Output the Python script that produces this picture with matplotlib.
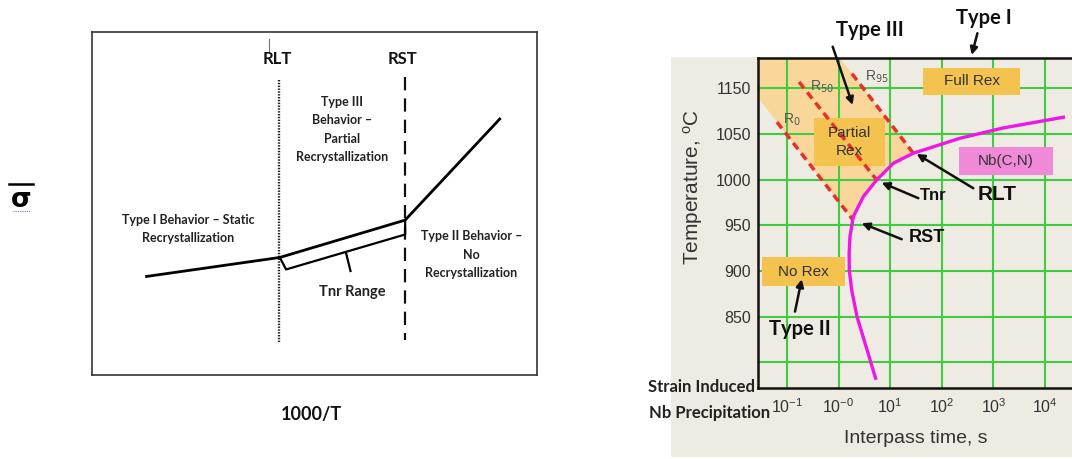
import matplotlib
matplotlib.use("Agg")
import matplotlib.pyplot as plt
from matplotlib.patches import Rectangle, Polygon
from matplotlib.lines import Line2D

# ---------------- data: left schematic (arbitrary units) ----------------
flow_x = [11.9, 42.2, 70.4, 91.9]          # 1000/T
flow_y = [28.7, 34.3, 45.2, 75.0]          # mean flow stress
bracket_x = [42.2, 43.6, 70.4, 70.4]
bracket_y = [34.3, 30.8, 41.0, 45.2]
tnr_tick_x = [57.1, 58.1]
tnr_tick_y = [35.6, 30.35]
rlt_x = 41.9
rlt_y = [86.1, 9.2]
rst_x = 70.4
rst_y = [87.0, 10.2]

# ---------------- data: right RPTT diagram ----------------
xtick_vals = [-1, 0, 1, 2, 3, 4]                      # log10(interpass time, s)
xtick_labels = [r"$\mathregular{10^{-1}}$", r"$\mathregular{10^{-0}}$",
                r"$\mathregular{10^{1}}$", r"$\mathregular{10^{2}}$",
                r"$\mathregular{10^{3}}$", r"$\mathregular{10^{4}}$"]
ytick_vals = [850, 900, 950, 1000, 1050, 1100]
ytick_labels = ["850", "900", "950", "1000", "1050", "1150"]
grid_T = [800, 850, 900, 950, 1000, 1050, 1100]

curve_logt = [0.725, 0.55, 0.357, 0.254, 0.207, 0.205, 0.221, 0.285, 0.479,
              0.738, 1.06, 1.448, 2.353, 3.186, 4.388]
curve_T = [781, 814, 850, 879, 901, 920, 938, 959.5, 981.4,
           999.7, 1017.9, 1028.9, 1045.3, 1056.5, 1068.6]

r0_logt, r0_T = [-1.194, 0.279], [1063.0, 955.9]
r50_logt, r50_T = [-0.767, 0.738], [1106.9, 999.7]
r95_logt, r95_T = [0.26, 1.448], [1115.9, 1028.9]

shade_logt = [-1.562, 0.025, 1.448, 1.06, 0.738, 0.479, 0.285, 0.279, -1.562]
shade_T = [1133.1, 1133.1, 1028.9, 1017.9, 999.7, 981.4, 959.5, 955.9, 1089.8]

box_labels = ["Full Rex", "Partial\nRex", "No Rex", "Nb(C,N)"]
box_logt = [(1.636, 3.516), (-0.477, 0.899), (-1.49, 0.124), (2.34, 4.15)]
box_T = [(1092.6, 1122.2), (1014.5, 1067.2), (884.0, 914.9), (1005.1, 1036.1)]
box_colors = ["#f3c24f", "#f3c24f", "#f3c24f", "#f08ad8"]

r_labels = [r"R$_0$", r"R$_{50}$", r"R$_{95}$"]
r_label_logt = [-0.91, -0.327, 0.75]
r_label_T = [1065, 1101.8, 1112]

ann_text = ["Type III", "Type I", "Type II", "Tnr", "RST", "RLT"]
ann_text_xy = [(0.60, 1163.8), (2.81, 1176.6), (-0.76, 836.3),
               (1.835, 982.2), (1.707, 937.0), (3.064, 983.3)]
ann_tail = [(-0.115, 1145.5), (2.69, 1160.2), (-0.845, 855.6),
            (1.545, 979.7), (1.223, 934.8), (2.61, 990.6)]
ann_tip = [(0.273, 1081.7), (2.58, 1136.4), (-0.715, 891.0),
           (0.835, 996.7), (0.448, 952.3), (1.513, 1028.1)]
ann_size = [14.5, 14.5, 14.5, 12, 13, 15]
ann_font = ["Lato", "Lato", "Lato", "Liberation Sans", "Liberation Sans", "Liberation Sans"]

W, H = 1072, 459
fig = plt.figure(figsize=(W / 100, H / 100), dpi=100)
fig.patch.set_facecolor("white")

# beige background of the right picture
fig.patches.append(Rectangle((671 / W, 1 - 457 / H), (W - 671) / W, (457 - 57) / H,
                             transform=fig.transFigure, facecolor="#eeebe3",
                             edgecolor="none", zorder=-5))

# ================= LEFT PANEL =================
axl = fig.add_axes([92.3 / W, 1 - 375 / H, 444.4 / W, 342.7 / H])
axl.set_xlim(0, 100)
axl.set_ylim(0, 100)
axl.set_xticks([])
axl.set_yticks([])
for s in axl.spines.values():
    s.set_color("#333333")
    s.set_linewidth(1.2)

LF = "Lato"
axl.plot(flow_x, flow_y, color="black", lw=2.0, solid_capstyle="butt", zorder=3)
axl.plot(bracket_x, bracket_y, color="black", lw=1.6, zorder=3)
axl.plot(tnr_tick_x, tnr_tick_y, color="black", lw=1.6, zorder=3)
axl.plot([rlt_x, rlt_x], rlt_y, color="#222222", lw=1.7, linestyle=(0, (0.6, 0.6)), zorder=2)
axl.plot([rst_x, rst_x], rst_y, color="#111111", lw=1.6, linestyle=(0, (6, 3.6)), zorder=2)
axl.plot([39.83, 39.83], [98.05, 94.25], color="#777777", lw=0.8)

axl.text(41.65, 92.1, "RLT", ha="center", va="center", fontsize=12, fontweight="bold",
         family=LF, color="#111111")
axl.text(69.8, 92.1, "RST", ha="center", va="center", fontsize=12, fontweight="bold",
         family=LF, color="#111111")
axl.text(56.2, 71.6, "Type III\nBehavior \u2013\nPartial\nRecrystallization", ha="center",
         va="center", fontsize=9, fontweight="bold", family=LF, color="#222222",
         linespacing=1.65)
axl.text(21.6, 42.6, "Type I Behavior \u2013 Static\nRecrystallization", ha="center",
         va="center", fontsize=9, fontweight="bold", family=LF, color="#222222",
         linespacing=1.65)
axl.text(85.3, 35.1, "Type II Behavior \u2013\nNo\nRecrystallization", ha="center",
         va="center", fontsize=9, fontweight="bold", family=LF, color="#222222",
         linespacing=1.65)
axl.text(58.4, 24.2, "Tnr Range", ha="center", va="center", fontsize=10.5,
         fontweight="bold", family=LF, color="#222222")
axl.text(0.492, -0.115, "1000/T", transform=axl.transAxes, ha="center", va="center",
         fontsize=13, fontweight="bold", family=LF, color="#111111")

# sigma-bar (mean flow stress) y label
fig.text(21 / W, 1 - 207 / H, "\u03c3", ha="center", va="baseline",
         fontsize=19, fontweight="bold", family="DejaVu Sans", color="black")
fig.add_artist(Line2D([8.5 / W, 33 / W], [1 - 184 / H, 1 - 184 / H],
                      transform=fig.transFigure, color="black", lw=1.8))
fig.add_artist(Line2D([13 / W, 30 / W], [1 - 211 / H, 1 - 211 / H],
                      transform=fig.transFigure, color="#6f6fd8", lw=0.8,
                      linestyle=(0, (1, 1))))

# ================= RIGHT PANEL =================
axr = fig.add_axes([758 / W, 1 - 388 / H, 314 / W, 330 / H])
axr.set_facecolor("#eeebe3")
axr.set_xlim(-1.562, 4.523)
axr.set_ylim(772.0, 1133.1)

axr.add_patch(Polygon(list(zip(shade_logt, shade_T)), closed=True,
                      facecolor="#f9d79b", edgecolor="none", zorder=0.5))

for xv in xtick_vals:
    axr.axvline(xv, color="#3fcc3f", lw=1.5, zorder=1)
for tv in grid_T:
    axr.axhline(tv, color="#3fcc3f", lw=1.5, zorder=1)

for lab, (x0, x1), (y0, y1), c in zip(box_labels, box_logt, box_T, box_colors):
    axr.add_patch(Rectangle((x0, y0), x1 - x0, y1 - y0, facecolor=c,
                            edgecolor="none", zorder=2))
    axr.text((x0 + x1) / 2, (y0 + y1) / 2, lab, ha="center", va="center",
             fontsize=11, family="Liberation Sans", color="#333333",
             linespacing=1.35, zorder=5)

for xs, ys in [(r0_logt, r0_T), (r50_logt, r50_T), (r95_logt, r95_T)]:
    axr.plot(xs, ys, color="#e8302a", lw=2.5, linestyle=(0, (2.3, 1.5)), zorder=3)

for lab, xv, yv in zip(r_labels, r_label_logt, r_label_T):
    axr.text(xv, yv, lab, ha="center", va="center", fontsize=10,
             family="Liberation Sans", color="#555555", zorder=5)

axr.plot(curve_logt, curve_T, color="#ee18e6", lw=2.4, zorder=3.5,
         solid_capstyle="butt")

for txt, txy, tail, tip, fs, fam in zip(ann_text, ann_text_xy, ann_tail, ann_tip,
                                        ann_size, ann_font):
    axr.annotate("", xy=tip, xytext=tail, xycoords="data", textcoords="data",
                 annotation_clip=False,
                 arrowprops=dict(arrowstyle="-|>", color="#111111", lw=1.8,
                                 mutation_scale=11, shrinkA=0, shrinkB=0), zorder=4)
    axr.text(txy[0], txy[1], txt, ha="center", va="center", fontsize=fs,
             fontweight="bold", family=fam, color="#111111", clip_on=False, zorder=5)

axr.set_xticks(xtick_vals)
axr.set_xticklabels(xtick_labels)
axr.set_yticks(ytick_vals)
axr.set_yticklabels(ytick_labels)
axr.tick_params(axis="both", length=0, labelsize=11.5, labelcolor="#333333")
axr.tick_params(axis="y", pad=5)
axr.tick_params(axis="x", pad=7)
for lab in axr.get_xticklabels() + axr.get_yticklabels():
    lab.set_family("Liberation Sans")

for side in ["left", "top", "bottom"]:
    axr.spines[side].set_color("#111111")
    axr.spines[side].set_linewidth(1.8)
axr.spines["right"].set_visible(False)

axr.set_xlabel("Interpass time, s", fontsize=14, family="Liberation Sans",
               color="#333333", va="center")
axr.xaxis.set_label_coords(0.502, -0.152)
axr.set_ylabel(r"Temperature, $\mathregular{^{o}}$C", fontsize=15,
               family="Liberation Sans", color="#333333", va="center")
axr.yaxis.set_label_coords(-0.207, 0.61)

fig.text(755 / W, 1 - 387.3 / H, "Strain Induced", ha="right", va="center",
         fontsize=12, fontweight="bold", family="Lato", color="#222222")
fig.text(770 / W, 1 - 413.3 / H, "Nb Precipitation", ha="right", va="center",
         fontsize=12, fontweight="bold", family="Lato", color="#222222")

fig.savefig("out.png", dpi=100)
